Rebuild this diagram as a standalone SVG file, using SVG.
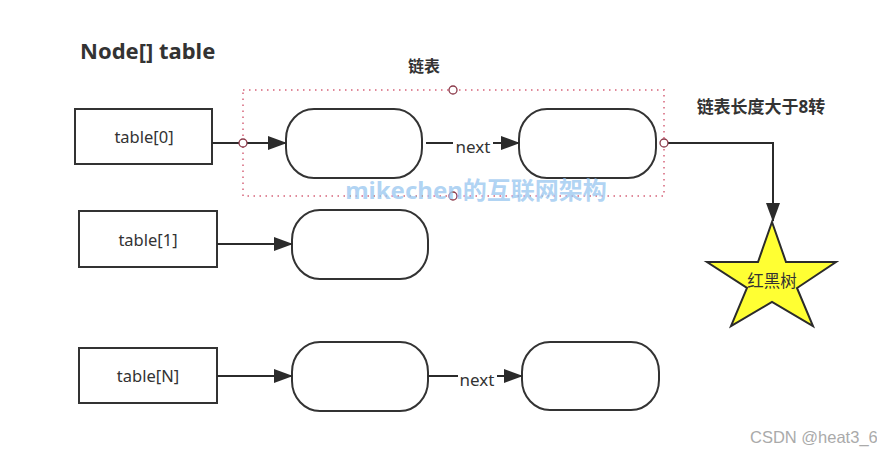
<svg xmlns="http://www.w3.org/2000/svg" width="877" height="450" viewBox="0 0 877 450">
<defs>
<marker id="arr" markerWidth="20" markerHeight="14" refX="18" refY="7" orient="auto" markerUnits="userSpaceOnUse">
<path d="M0,0 L19,7 L0,14 Z" fill="#2b2b2b"/>
</marker>
<style>
text{font-family:"Noto Sans","Noto Sans CJK SC",sans-serif;fill:#333}
.box{fill:#fff;stroke:#333;stroke-width:2}
.pill{fill:#fff;stroke:#333;stroke-width:2}
.ln{fill:none;stroke:#2b2b2b;stroke-width:2}
.lbl{font-size:16.5px;text-anchor:middle}
.bold{font-weight:bold}
.pt{fill:#fff;stroke:#8b3a4a;stroke-width:1.3}
</style>
</defs>
<rect width="877" height="450" fill="#fff"/>
<text x="80" y="59" class="bold" font-size="22" fill="#333">Node[] table</text>
<text x="424" y="72" class="bold" font-size="16" text-anchor="middle">链表</text>
<text x="761" y="113" class="bold" font-size="17" text-anchor="middle">链表长度大于8转</text>

<g id="list-group">
<rect x="243" y="90" width="421" height="106" fill="none" stroke="#e0899a" stroke-width="2" stroke-dasharray="1.5 4.5"/>
</g>

<g id="table0"><rect class="box" x="75" y="109" width="137" height="55"/><text class="lbl" x="144" y="143">table[0]</text></g>
<g id="table1"><rect class="box" x="79" y="211" width="138" height="56"/><text class="lbl" x="148" y="246">table[1]</text></g>
<g id="tableN"><rect class="box" x="79" y="348" width="138" height="55"/><text class="lbl" x="148" y="382">table[N]</text></g>

<g id="node0a"><rect class="pill" x="286" y="109" width="136" height="69" rx="28" ry="30"/></g>
<g id="node0b"><rect class="pill" x="519" y="109" width="137" height="69" rx="28" ry="30"/></g>
<g id="node1a"><rect class="pill" x="292" y="210" width="136" height="69" rx="28" ry="30"/></g>
<g id="nodeNa"><rect class="pill" x="292" y="342" width="136" height="69" rx="28" ry="30"/></g>
<g id="nodeNb"><rect class="pill" x="522" y="342" width="137" height="68" rx="28" ry="30"/></g>

<g id="rbtree">
<polygon points="772,222 786,262 836,262 797,288 813,326 772,302 731,326 747,288 707,262 758,262" fill="#ffff33" stroke="#2b2b2b" stroke-width="2" stroke-linejoin="miter"/>
<text class="lbl" x="772" y="287" font-size="17">红黑树</text>
</g>

<g id="connectors">
<line class="ln" x1="212" y1="143" x2="286" y2="143" marker-end="url(#arr)"/>
<line class="ln" x1="426" y1="143" x2="453" y2="143"/>
<line class="ln" x1="493" y1="143" x2="519" y2="143" marker-end="url(#arr)"/>
<text class="lbl" x="473" y="153" style="font-size:17px">next</text>
<path class="ln" d="M664,143 H773 V221" marker-end="url(#arr)"/>
<line class="ln" x1="217" y1="244" x2="292" y2="244" marker-end="url(#arr)"/>
<line class="ln" x1="217" y1="376" x2="292" y2="376" marker-end="url(#arr)"/>
<line class="ln" x1="428" y1="376" x2="458" y2="376"/>
<line class="ln" x1="497" y1="376" x2="522" y2="376" marker-end="url(#arr)"/>
<text class="lbl" x="477" y="386" style="font-size:17px">next</text>
</g>

<g id="points">
<circle class="pt" cx="243" cy="143" r="4"/>
<circle class="pt" cx="453" cy="90" r="4"/>
<circle class="pt" cx="453" cy="196" r="4"/>
<circle class="pt" cx="664" cy="143" r="4"/>
</g>

<text x="476" y="199" font-size="24" font-weight="bold" text-anchor="middle" style="fill:#9cc8f0;fill-opacity:0.8">mikechen的互联网架构</text>
<text x="750" y="443" font-size="16.5" style="font-family:'Liberation Sans',sans-serif;fill:#aaa">CSDN @heat3_6</text>
</svg>
